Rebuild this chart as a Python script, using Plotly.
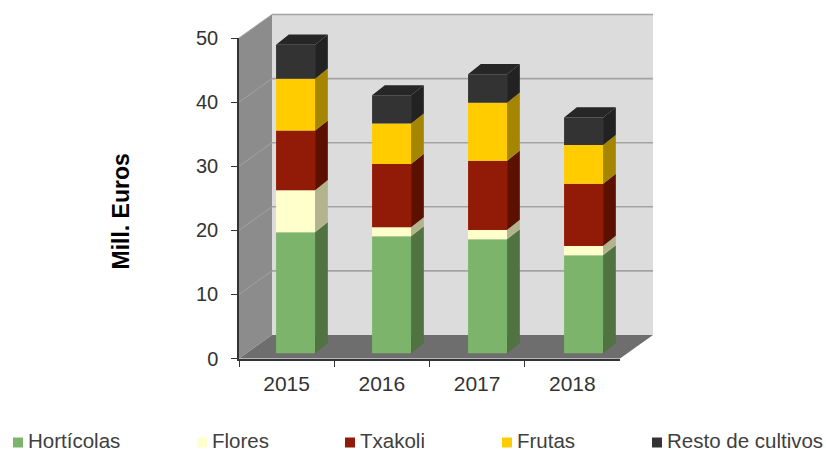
import plotly.graph_objects as go

YEARS = ["2015", "2016", "2017", "2018"]
SERIES = ["Hortícolas", "Flores", "Txakoli", "Frutas", "Resto de cultivos"]
HORTICOLAS = [18.9, 18.25, 17.8, 15.3]
FLORES = [6.55, 1.4, 1.45, 1.45]
TXAKOLI = [9.3, 9.9, 10.8, 9.7]
FRUTAS = [8.1, 6.3, 9.05, 6.05]
RESTO = [5.3, 4.4, 4.45, 4.3]
VALUES = [HORTICOLAS, FLORES, TXAKOLI, FRUTAS, RESTO]
Y_TICKS = [0, 10, 20, 30, 40, 50]

FRONT = ["#7db46c", "#ffffcc", "#911b06", "#ffcc00", "#333333"]
SIDE = ["#50733f", "#b3b38e", "#5c1000", "#a68600", "#222222"]
TOP = "#262626"

W, H = 826, 452
AX_L, AX_R, AX_B, AX_T = 239.0, 620.0, 358.5, 38.0   # px of the front axes
PX_CAT = (AX_R - AX_L) / 4
PX_VAL = (AX_B - AX_T) / 50
DX = 33 / PX_CAT      # full chart depth, in category units
DY = 23.5 / PX_VAL    # full chart depth, in value units
D0, D1 = 0.22, 0.65   # bar depth span
BAR_W = 39 / PX_CAT
BAR_SHIFT = 0.0177
SLOT = 96 / PX_CAT
BAR_DEPTH_X = 0.9


def proj(c, v, d=0.0):
    return c + d * DX, v + d * DY


def bproj(c, v, d):
    return c + (D0 + (d - D0) * BAR_DEPTH_X) * DX, v + d * DY


def path(points):
    return "M" + " L".join(f"{x},{y}" for x, y in points) + " Z"


def wall(points, color):
    return dict(type="path", xref="x", yref="y", layer="below", path=path(points),
                fillcolor=color, line=dict(width=0))


XL, XR = -0.5, 3.5
shapes = [
    wall([proj(XL, 0, 0), proj(XL, 50, 0), proj(XL, 50, 1), proj(XL, 0, 1)], "#8c8c8c"),
    wall([proj(XL, 0, 1), proj(XL, 50, 1), proj(XR, 50, 1), proj(XR, 0, 1)], "#dcdcdc"),
    wall([proj(XL, 0, 0), proj(XL, 0, 1), proj(XR, 0, 1), proj(XR, 0, 0)], "#6e6e6e"),
]
for t in Y_TICKS[1:]:
    x0, y0 = proj(XL, t, 0)
    x1, y1 = proj(XL, t, 1)
    x2, y2 = proj(XR, t, 1)
    shapes.append(dict(type="line", xref="x", yref="y", layer="below", x0=x0, y0=y0, x1=x1, y1=y1,
                       line=dict(color="#a2a2a2", width=1)))
    shapes.append(dict(type="line", xref="x", yref="y", layer="below", x0=x1, y0=y1, x1=x2, y1=y2,
                       line=dict(color="#a3a3a3", width=1.6)))

# legend swatches and texts (paper coordinates)
LEG_X = [13, 197, 345, 502, 652]
LEG_Y = 442.5
LEG_TEXT_Y = 440.5
annotations = []
for name, color, lx in zip(SERIES, FRONT, LEG_X):
    shapes.append(dict(type="rect", xref="paper", yref="paper",
                       x0=lx / W, x1=(lx + 10) / W, y0=1 - (LEG_Y + 5) / H, y1=1 - (LEG_Y - 5) / H,
                       fillcolor=color, line=dict(width=0)))
    annotations.append(dict(text=name, xref="paper", yref="paper", x=(lx + 13) / W, y=1 - LEG_TEXT_Y / H,
                            xanchor="left", yanchor="middle", showarrow=False,
                            font=dict(family="Liberation Sans", size=20.5, color="#404040")))
annotations.append(dict(text="<b>Mill. Euros</b>", xref="paper", yref="paper", x=120.5 / W, y=1 - 212 / H,
                        textangle=-90, xanchor="center", yanchor="middle", showarrow=False,
                        font=dict(family="Liberation Sans", size=23, color="#000000")))

fig = go.Figure()
base = [0.0] * 4
slots = [i * SLOT + BAR_SHIFT for i in range(len(YEARS))]
centers = [bproj(s, 0, D0)[0] for s in slots]
base_offset = D0 * DY
side_traces = []
top_x, top_y = [], []
for name, vals, fc, sc in zip(SERIES, VALUES, FRONT, SIDE):
    fig.add_trace(go.Bar(x=centers, y=vals, base=[b + base_offset for b in base], width=BAR_W,
                         marker=dict(color=fc, line=dict(width=0)), name=name, showlegend=False))
    sx, sy = [], []
    for s, v, b in zip(slots, vals, base):
        right = s + BAR_W / 2
        for px, py in [bproj(right, b, D0), bproj(right, b + v, D0), bproj(right, b + v, D1), bproj(right, b, D1), bproj(right, b, D0)]:
            sx.append(px)
            sy.append(py)
        sx.append(None)
        sy.append(None)
    side_traces.append(go.Scatter(x=sx, y=sy, mode="lines", fill="toself", fillcolor=sc,
                                  line=dict(width=0, color=sc), showlegend=False, hoverinfo="skip"))
    base = [b + v for b, v in zip(base, vals)]

for s, b in zip(slots, base):
    l, r = s - BAR_W / 2, s + BAR_W / 2
    for px, py in [bproj(l, b, D0), bproj(r, b, D0), bproj(r, b, D1), bproj(l, b, D1), bproj(l, b, D0)]:
        top_x.append(px)
        top_y.append(py)
    top_x.append(None)
    top_y.append(None)

for tr in side_traces:
    fig.add_trace(tr)
fig.add_trace(go.Scatter(x=top_x, y=top_y, mode="lines", fill="toself", fillcolor=TOP,
                         line=dict(width=0, color=TOP), showlegend=False, hoverinfo="skip"))

# invisible trace holding the real category/value axes
fig.add_trace(go.Scatter(x=YEARS, y=base, mode="none", xaxis="x2", yaxis="y2", showlegend=False, hoverinfo="skip"))

x_lo = XL - AX_L / PX_CAT
y_lo = -(H - AX_B) / PX_VAL
fig.update_layout(
    width=W, height=H, margin=dict(l=0, r=0, t=0, b=0, pad=0, autoexpand=False), autosize=False,
    paper_bgcolor="white", plot_bgcolor="rgba(0,0,0,0)",
    barmode="overlay", showlegend=False,
    xaxis=dict(domain=[0, 1], range=[x_lo, x_lo + W / PX_CAT], visible=False, fixedrange=True),
    yaxis=dict(domain=[0, 1], range=[y_lo, y_lo + H / PX_VAL], visible=False, fixedrange=True),
    xaxis2=dict(domain=[AX_L / W, AX_R / W], type="category", categoryorder="array", categoryarray=YEARS,
                range=[-0.5, 3.5], anchor="y2", tickson="boundaries", ticks="outside", ticklen=7,
                tickcolor="#333333", tickwidth=1.3, linecolor="#333333", linewidth=1.5, showline=True,
                showgrid=False, zeroline=False, ticklabelstandoff=6, fixedrange=True,
                tickfont=dict(family="Liberation Sans", size=21, color="#333333")),
    yaxis2=dict(domain=[1 - AX_B / H, 1 - AX_T / H], range=[0, 50], anchor="x2", tickvals=Y_TICKS,
                ticks="outside", ticklen=6, tickcolor="#333333", tickwidth=1.3, linecolor="#333333",
                linewidth=1.5, showline=True, showgrid=False, zeroline=False, ticklabelstandoff=9,
                fixedrange=True, tickfont=dict(family="Liberation Sans", size=20, color="#333333")),
    shapes=shapes, annotations=annotations,
)
fig.write_html("out.html", config={"displayModeBar": False},
               post_script="document.body.style.margin='0';document.documentElement.style.overflow='hidden';")
